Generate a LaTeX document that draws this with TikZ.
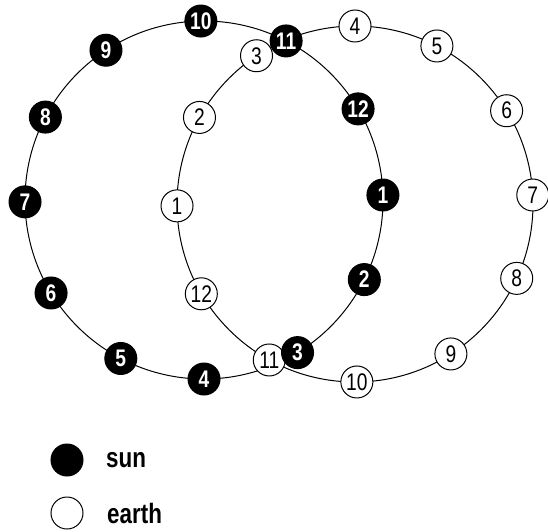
\documentclass[tikz,border=0pt]{standalone}
\usepackage{fontspec}
\setmainfont{Liberation Sans}
\usetikzlibrary{calc}
\newcommand{\narrow}[1]{\scalebox{0.8}[1]{#1}}
\tikzset{
  orbit/.style={draw=black, line width=1pt},
  body/.style={circle, draw=black, line width=1pt, minimum size=32pt, inner sep=0pt},
  sunnode/.style={body, fill=black, text=white, font=\fontsize{24}{24}\selectfont\bfseries},
  earthnode/.style={body, fill=white, text=black, font=\fontsize{24}{24}\selectfont},
  legendtext/.style={anchor=west, inner sep=0pt, font=\fontsize{28}{28}\selectfont\bfseries}
}
\begin{document}
\begin{tikzpicture}[x=1pt,y=1pt]
\useasboundingbox (0,0) rectangle (548,531);
\coordinate (sc) at (204,331);
\coordinate (ec) at (355,327);
\draw[orbit] (sc) circle[radius=179];
\draw[orbit] (ec) circle[radius=178];
% earth positions
\node[earthnode] (e4)  at ($(ec)+(90:178)$) {\narrow{4}};
\node[earthnode] (e5)  at ($(ec)+(62.6:178)$) {\narrow{5}};
\node[earthnode] (e6)  at ($(ec)+(31.6:178)$) {\narrow{6}};
\node[earthnode] (e7)  at ($(ec)+(2.9:178)$) {\narrow{7}};
\node[earthnode] (e8)  at ($(ec)+(-24.7:178)$) {\narrow{8}};
\node[earthnode] (e9)  at ($(ec)+(-57.4:178)$) {\narrow{9}};
\node[earthnode] (e10) at ($(ec)+(-89.4:178)$) {\narrow{10}};
\node[earthnode] (e11) at ($(ec)+(241.2:178)$) {\narrow{11}};
\node[earthnode] (e12) at ($(ec)+(210.3:178)$) {\narrow{12}};
\node[earthnode] (e1)  at ($(ec)+(180.6:178)$) {\narrow{1}};
\node[earthnode] (e2)  at ($(ec)+(150.9:178)$) {\narrow{2}};
\node[earthnode] (e3)  at ($(ec)+(123.6:178)$) {\narrow{3}};
% sun positions
\node[sunnode] (s10) at ($(sc)+(91:179)$) {\narrow{10}};
\node[sunnode] (s9)  at ($(sc)+(123.2:179)$) {\narrow{9}};
\node[sunnode] (s8)  at ($(sc)+(152.4:179)$) {\narrow{8}};
\node[sunnode] (s7)  at ($(sc)+(180.6:179)$) {\narrow{7}};
\node[sunnode] (s6)  at ($(sc)+(211.3:179)$) {\narrow{6}};
\node[sunnode] (s5)  at ($(sc)+(242.3:179)$) {\narrow{5}};
\node[sunnode] (s4)  at ($(sc)+(270:179)$) {\narrow{4}};
\node[sunnode] (s3)  at ($(sc)+(301.5:179)$) {\narrow{3}};
\node[sunnode] (s2)  at ($(sc)+(333.6:179)$) {\narrow{2}};
\node[sunnode] (s1)  at ($(sc)+(1.6:179)$) {\narrow{1}};
\node[sunnode] (s12) at ($(sc)+(30.6:179)$) {\narrow{12}};
\node[sunnode] (s11) at ($(sc)+(62.7:179)$) {\narrow{11}};
% legend
\node[sunnode] (lsun) at (67,71) {};
\node[earthnode] (learth) at (67,18) {};
\node[legendtext] (tsun) at (106,71) {\narrow{sun}};
\node[legendtext] (tearth) at (107,18) {\narrow{earth}};
\end{tikzpicture}
\end{document}
